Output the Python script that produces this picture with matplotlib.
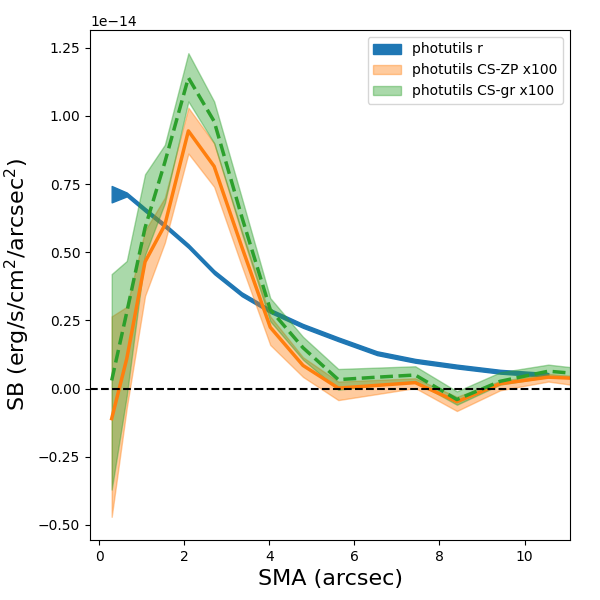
import numpy as np
import matplotlib
matplotlib.use("Agg")
import matplotlib.pyplot as plt

# SMA (arcsec)
sma = np.array([0.29, 0.645, 1.075, 1.54, 2.094, 2.70, 3.35, 4.02, 4.79, 5.62,
                6.53, 7.43, 8.41, 9.43, 10.56, 11.75])

# perfil r de photutils (unidades de 1e-14)
sb_r = np.array([0.713, 0.712, 0.656, 0.598, 0.523, 0.427, 0.346, 0.285, 0.230,
                 0.181, 0.130, 0.102, 0.081, 0.062, 0.050])
err_r = np.array([0.030, 0.007, 0.007, 0.007, 0.007, 0.007, 0.007, 0.007, 0.007,
                  0.007, 0.007, 0.007, 0.007, 0.007, 0.007])

# CS-ZP x100
sb_zp = np.array([-0.11, 0.11, 0.465, 0.60, 0.945, 0.815, 0.52, 0.225, 0.085,
                  0.002, 0.012, 0.022, -0.048, 0.018, 0.042, 0.034])
zp_hi = np.array([0.265, 0.30, 0.58, 0.70, 1.03, 0.90, 0.58, 0.265, 0.115,
                  0.026, 0.032, 0.038, -0.03, 0.028, 0.054, 0.039])
zp_lo = np.array([-0.47, -0.07, 0.34, 0.535, 0.862, 0.74, 0.45, 0.16, 0.043,
                  -0.042, -0.02, 0.002, -0.082, -0.006, 0.026, 0.0])

# CS-gr x100
sb_gr = np.array([0.03, 0.28, 0.59, 0.83, 1.14, 0.98, 0.63, 0.29, 0.15,
                  0.033, 0.042, 0.05, -0.04, 0.027, 0.064, 0.048])
gr_hi = np.array([0.42, 0.468, 0.786, 0.894, 1.23, 1.053, 0.70, 0.332, 0.19,
                  0.072, 0.077, 0.082, -0.01, 0.06, 0.088, 0.067])
gr_lo = np.array([-0.37, -0.025, 0.49, 0.68, 1.053, 0.90, 0.57, 0.247, 0.106,
                  -0.004, 0.012, 0.027, -0.059, 0.015, 0.043, 0.034])

escala = 1e-14

fig = plt.figure(figsize=(6, 6), dpi=100)
ax = fig.add_axes([0.15, 0.10, 0.80, 0.85])

n = len(sb_r)
ax.fill_between(sma[:n], (sb_r - err_r) * escala, (sb_r + err_r) * escala,
                color='C0', label='photutils r')

ax.plot(sma, sb_zp * escala, color='C1', lw=2.5)
ax.fill_between(sma, zp_lo * escala, zp_hi * escala, color='C1', alpha=0.4,
                label='photutils CS-ZP x100')

ax.plot(sma, sb_gr * escala, color='C2', lw=2.5, ls='--')
ax.fill_between(sma, gr_lo * escala, gr_hi * escala, color='C2', alpha=0.4,
                label='photutils CS-gr x100')

ax.axhline(0, color='k', ls='--', lw=1.5)

ax.set_xlim(-0.22, 11.07)
ax.set_xlabel('SMA (arcsec)', fontsize=16)
ax.set_ylabel(r'SB (erg/s/cm$^2$/arcsec$^2$)', fontsize=16)
ax.legend(loc='upper right')

fig.savefig('out.png')
